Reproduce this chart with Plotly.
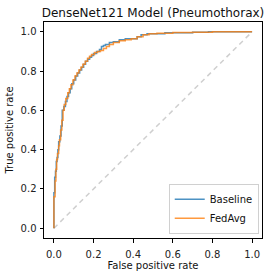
import plotly.graph_objects as go

baseline_fpr = [0.0, 0.0, 0.004, 0.008, 0.012, 0.016, 0.02, 0.024, 0.03, 0.036, 0.042, 0.05, 0.058, 0.066, 0.074, 0.082, 0.09, 0.1, 0.11, 0.12, 0.13, 0.14, 0.15, 0.16, 0.17, 0.18, 0.19, 0.2, 0.215, 0.23, 0.24, 0.25, 0.26, 0.28, 0.3, 0.33, 0.36, 0.39, 0.42, 0.44, 0.47, 0.52, 0.56, 0.6, 0.7, 0.78, 0.83, 1.0]
baseline_tpr = [0.0, 0.07, 0.18, 0.26, 0.29, 0.34, 0.36, 0.4, 0.44, 0.47, 0.52, 0.6, 0.62, 0.645, 0.67, 0.69, 0.71, 0.735, 0.755, 0.775, 0.79, 0.805, 0.82, 0.835, 0.85, 0.86, 0.87, 0.88, 0.89, 0.9, 0.91, 0.925, 0.93, 0.935, 0.945, 0.95, 0.96, 0.965, 0.965, 0.975, 0.985, 0.99, 0.99, 0.995, 0.995, 0.998, 1.0, 1.0]

fedavg_fpr = [0.0, 0.0, 0.006, 0.01, 0.014, 0.018, 0.024, 0.028, 0.034, 0.04, 0.046, 0.052, 0.06, 0.07, 0.078, 0.086, 0.096, 0.106, 0.116, 0.126, 0.136, 0.146, 0.158, 0.17, 0.18, 0.19, 0.205, 0.22, 0.235, 0.25, 0.265, 0.28, 0.3, 0.33, 0.36, 0.39, 0.42, 0.45, 0.48, 0.52, 0.6, 0.7, 0.8, 0.88, 1.0]
fedavg_tpr = [0.0, 0.09, 0.16, 0.24, 0.3, 0.35, 0.38, 0.42, 0.45, 0.5, 0.55, 0.6, 0.63, 0.66, 0.69, 0.71, 0.73, 0.755, 0.775, 0.79, 0.805, 0.82, 0.835, 0.85, 0.865, 0.875, 0.885, 0.895, 0.9, 0.905, 0.915, 0.925, 0.935, 0.945, 0.955, 0.96, 0.965, 0.975, 0.985, 0.99, 0.993, 0.997, 0.998, 1.0, 1.0]

chance = [0.0, 1.0]
tick_vals = [0.0, 0.2, 0.4, 0.6, 0.8, 1.0]
tick_text = ["0.0", "0.2", "0.4", "0.6", "0.8", "1.0"]

font = "DejaVu Sans, sans-serif"

fig = go.Figure()
fig.add_trace(go.Scatter(x=chance, y=chance, mode="lines", showlegend=False,
                         line=dict(color="#cfcfcf", width=1.5, dash="5px,4px"), hoverinfo="skip"))
fig.add_trace(go.Scatter(x=baseline_fpr, y=baseline_tpr, mode="lines", name="Baseline",
                         line=dict(color="rgba(31,119,180,0.8)", width=1.5, shape="vh")))
fig.add_trace(go.Scatter(x=fedavg_fpr, y=fedavg_tpr, mode="lines", name="FedAvg",
                         line=dict(color="rgba(255,127,14,0.8)", width=1.5, shape="vh")))

axis_common = dict(
    tickvals=tick_vals, ticktext=tick_text, range=[-0.05, 1.05],
    showgrid=False, zeroline=False, showline=True, linecolor="black", linewidth=1,
    mirror=True, ticks="outside", ticklen=3.5, tickwidth=1, tickcolor="black",
    tickfont=dict(family=font, size=10, color="#222"),
)

fig.update_layout(
    width=271, height=278,
    margin=dict(l=44, r=8, t=22, b=38),
    paper_bgcolor="white", plot_bgcolor="white",
    title=dict(text="DenseNet121 Model (Pneumothorax)", x=0.5, xref="paper", xanchor="center",
               y=1 - 13/278, yanchor="middle", font=dict(family=font, size=12, color="#111")),
    xaxis=dict(title=dict(text="False positive rate", font=dict(family=font, size=10, color="#111"), standoff=3),
               ticklabelstandoff=3, **axis_common),
    yaxis=dict(title=dict(text="True positive rate", font=dict(family=font, size=10, color="#111"), standoff=5),
               ticklabelstandoff=1, **axis_common),
    legend=dict(x=0.985, y=0.02, xanchor="right", yanchor="bottom",
                bordercolor="#d0d0d0", borderwidth=1, bgcolor="rgba(255,255,255,0.8)",
                font=dict(family=font, size=10, color="#111"), itemwidth=30,
                tracegroupgap=0),
    showlegend=True,
)

fig.write_html("out.html", config={"displayModeBar": False},
               post_script="document.body.style.margin='0';document.body.style.padding='0';"
                           "document.documentElement.style.overflow='hidden';")
